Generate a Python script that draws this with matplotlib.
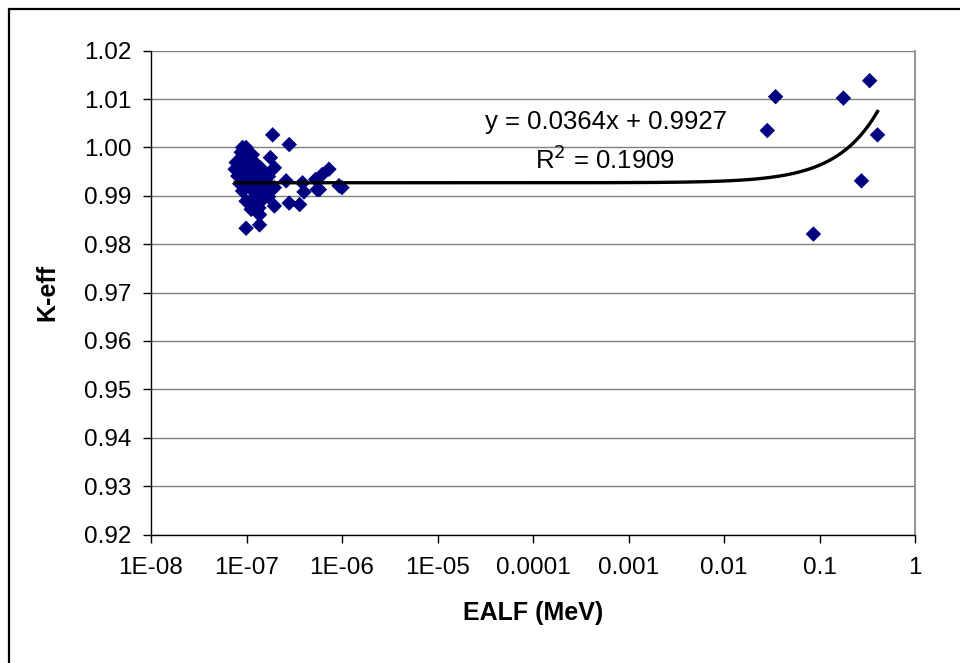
import matplotlib
matplotlib.use("Agg")
import matplotlib.pyplot as plt
import numpy as np
from matplotlib.patches import Rectangle

plt.rcParams['font.family'] = ['Liberation Sans', 'DejaVu Sans']

# Cluster of low-EALF (thermal) cases
ealf_thermal = [7.6e-8, 7.8e-8, 8.1e-8, 8.8e-8, 9.1e-8, 9.9e-8, 9.1e-8, 9.9e-8,
                1.12e-7, 1.37e-7, 1.37e-7, 9.9e-8, 1.26e-7, 1.31e-7, 1.42e-7, 1.54e-7,
                1.78e-7, 1.88e-7, 1.96e-7, 1.96e-7, 1.96e-7, 2.6e-7, 2.8e-7, 2.8e-7,
                3.6e-7, 3.86e-7, 4.0e-7, 5.3e-7, 5.8e-7, 6.2e-7, 7.3e-7, 1.0e-6,
                1.03e-7, 1.1e-7, 1.2e-7, 1.15e-7, 1.05e-7, 1.3e-7, 1.4e-7, 1.25e-7,
                1.45e-7, 1.5e-7, 1.2e-7, 1.35e-7, 1.6e-7, 1.7e-7, 1.1e-7, 9.5e-8,
                8.5e-8, 1.0e-7, 1.15e-7, 1.4e-7, 1.6e-7, 8.3e-8, 1.7e-7, 9.0e-8,
                5.5e-7, 9.3e-7]
keff_thermal = [0.9955, 0.9969, 0.9941, 0.9990, 1.0000, 1.0000, 0.9910, 0.9889,
                0.9872, 0.9861, 0.9840, 0.9833, 0.9966, 0.9906, 0.9889, 0.9948,
                0.9979, 1.0026, 0.9958, 0.9917, 0.9879, 0.9931, 1.0006, 0.9885,
                0.9882, 0.9927, 0.9908, 0.9934, 0.9913, 0.9944, 0.9955, 0.9917,
                0.9960, 0.9950, 0.9940, 0.9925, 0.9930, 0.9935, 0.9920, 0.9900,
                0.9905, 0.9895, 0.9885, 0.9875, 0.9930, 0.9940, 0.9915, 0.9945,
                0.9925, 0.9975, 0.9985, 0.9958, 0.9912, 0.9962, 0.9898, 0.9980,
                0.9913, 0.9921]

# Fast-spectrum cases
ealf_fast = [0.0347, 0.0284, 0.0863, 0.178, 0.335, 0.405, 0.275]
keff_fast = [1.0105, 1.0035, 0.9821, 1.0102, 1.0138, 1.0026, 0.9931]

slope = 0.0364
intercept = 0.9927
r2 = 0.1909

yticks = [0.92, 0.93, 0.94, 0.95, 0.96, 0.97, 0.98, 0.99, 1.00, 1.01, 1.02]
xticks = [1e-8, 1e-7, 1e-6, 1e-5, 1e-4, 1e-3, 1e-2, 1e-1, 1]
xticklabels = ['1E-08', '1E-07', '1E-06', '1E-05', '0.0001', '0.001', '0.01', '0.1', '1']

fig = plt.figure(figsize=(9.6, 6.63), dpi=100)
ax = fig.add_axes([151/960, 1-534.5/663, (915-151)/960, (534.5-50.7)/663])

x_all = np.array(ealf_thermal + ealf_fast)
y_all = np.array(keff_thermal + keff_fast)
ax.scatter(x_all, y_all, marker='D', s=62, color='#000080', edgecolors='none', zorder=3)

xt = np.geomspace(x_all.min(), x_all.max(), 600)
ax.plot(xt, slope * xt + intercept, color='black', lw=2.4, zorder=4)

ax.set_xscale('log')
ax.set_xlim(1e-8, 1)
ax.set_ylim(0.92, 1.02)
ax.set_xticks(xticks)
ax.set_xticklabels(xticklabels)
ax.xaxis.set_minor_locator(matplotlib.ticker.NullLocator())
ax.set_yticks(yticks)
ax.set_yticklabels([f'{v:.2f}' for v in yticks])

ax.grid(axis='y', color='#808080', lw=1.0, zorder=1)
ax.spines['top'].set_visible(False)
ax.spines['right'].set_color('#808080')
ax.spines['right'].set_linewidth(1.2)
ax.spines['left'].set_color('black')
ax.spines['bottom'].set_color('black')
ax.spines['left'].set_linewidth(1.0)
ax.spines['bottom'].set_linewidth(1.0)
ax.tick_params(axis='both', direction='out', length=6, width=1.0, labelsize=17.5, colors='black')
ax.tick_params(axis='x', pad=10)
ax.tick_params(axis='y', pad=8)

ax.set_xlabel('EALF (MeV)', fontsize=18, fontweight='bold', labelpad=16)
ax.set_ylabel('K-eff', fontsize=18, fontweight='bold', labelpad=18)

fig.text(606/960, 1-122/663, f'y = {slope}x + {intercept}', fontsize=18.5,
         ha='center', va='center')
fig.text(605/960, 1-160/663, f'R$^2$ = {r2}', fontsize=18.5,
         ha='center', va='center')

fig.add_artist(Rectangle((8.5/960, -0.05), 1.1, 1 - 9/663 + 0.05, transform=fig.transFigure,
                         fill=False, edgecolor='black', lw=1.6))

fig.savefig('out.png', dpi=100)
